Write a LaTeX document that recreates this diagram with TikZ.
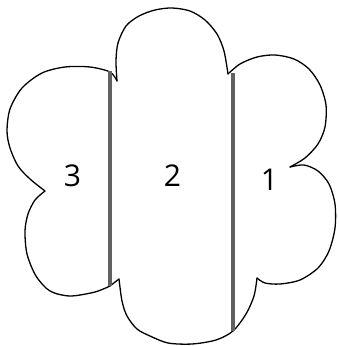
\documentclass[tikz,border=0pt]{standalone}
\usepackage{fontspec}
\setmainfont{Open Sans}
\usepackage{tikz}
\usetikzlibrary{positioning}

\begin{document}
\begin{tikzpicture}[x=1pt, y=1pt,
        outline/.style={draw=black, line width=1.3pt, line join=round, line cap=round},
        divider/.style={draw=black!62, line width=3.6pt},
        region/.style={anchor=base, font=\fontsize{30}{36}\selectfont}]

        \useasboundingbox (0,0) rectangle (339,346);

        \coordinate (leftcusp) at (45,155);
        \coordinate (topleft) at (117,265);
        \coordinate (topright) at (228,272);
        \coordinate (rightcusp) at (290,179);
        \coordinate (lowcusp) at (257,68);
        \coordinate (botleft) at (119,67);
        \coordinate (lefttop) at (110,275);
        \coordinate (leftbot) at (110,60);
        \coordinate (righttop) at (233,273);
        \coordinate (rightbot) at (233,15);

        \draw[outline] plot[smooth] coordinates {(leftcusp) (30,167) (18,180) (10,198) (7,215) (10,237) (22,258) (42,273) (65,279) (90,279) (110,274) (topleft)};
        \draw[outline] plot[smooth] coordinates {(topleft) (116,285) (118,303) (126,320) (139,330) (155,336) (172,338) (190,335) (205,326) (217,312) (224,295) (topright)};
        \draw[outline] plot[smooth] coordinates {(topright) (240,282) (257,289) (275,291) (294,287) (309,277) (320,261) (326,241) (325,219) (318,202) (305,188) (rightcusp)};
        \draw[outline] plot[smooth] coordinates {(rightcusp) (304,181) (318,175) (329,162) (335,142) (335,118) (329,95) (318,78) (300,66) (280,62) (265,63) (lowcusp)};
        \draw[outline] plot[smooth] coordinates {(lowcusp) (254,50) (246,32) (rightbot) (216,6) (192,2) (168,3) (150,10) (137,17) (127,30) (122,45) (botleft)};
        \draw[outline] (botleft) -- (leftbot);
        \draw[outline] plot[smooth] coordinates {(leftbot) (95,54) (70,50) (50,55) (36,70) (27,92) (25,115) (28,132) (35,146) (leftcusp)};

        \draw[divider] (lefttop) -- (leftbot);
        \draw[divider] (righttop) -- (rightbot);

        \node[region] (three) at (72.5,159) {3};
        \node[region] (two) at (172.5,159) {2};
        \node[region] (one) at (269.5,155.5) {1};
\end{tikzpicture}
\end{document}
